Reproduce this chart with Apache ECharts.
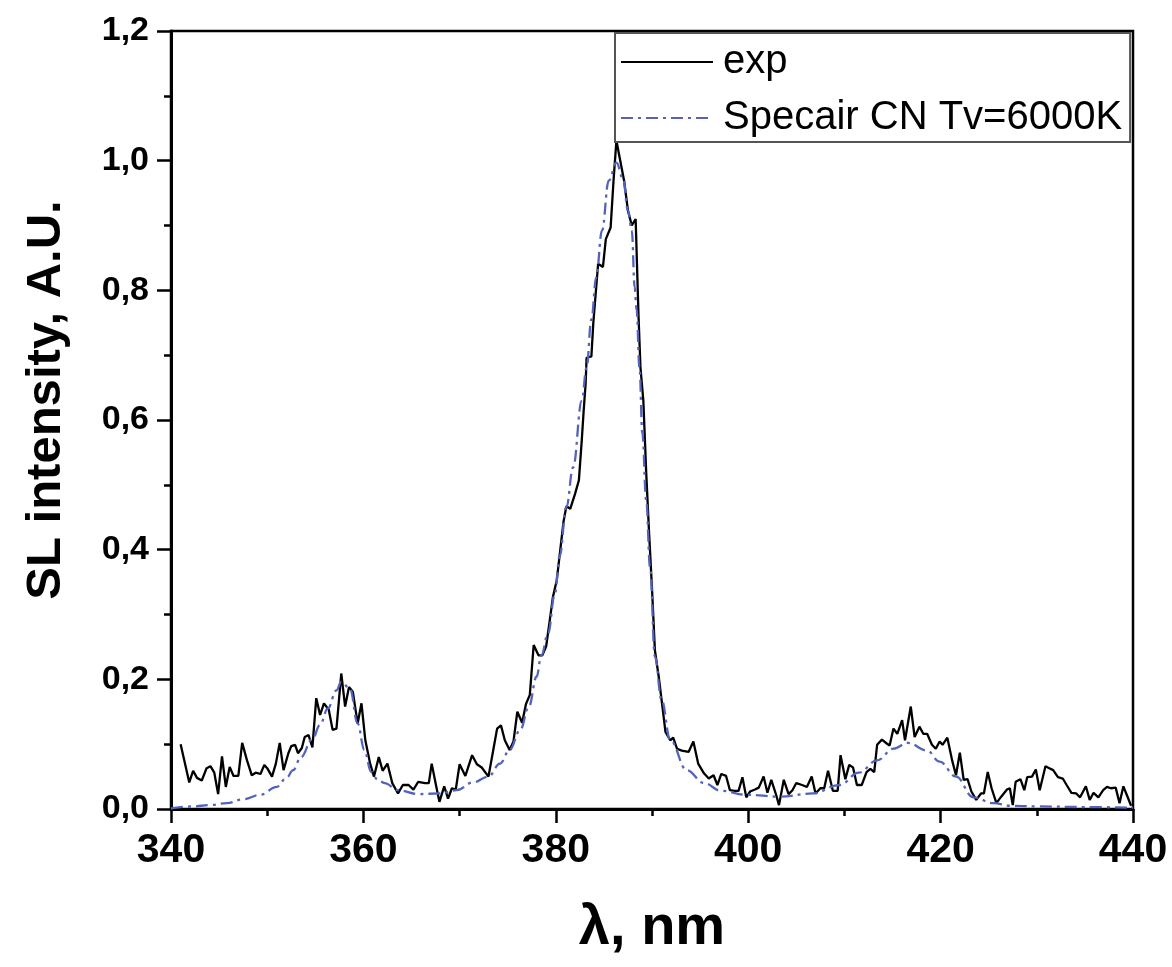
<!DOCTYPE html>
<html>
<head>
<meta charset="utf-8">
<script src="https://cdn.jsdelivr.net/npm/echarts@6/dist/echarts.min.js"></script>
<style>
html,body{margin:0;padding:0;background:#fff;}
#chart{width:1172px;height:967px;}
</style>
</head>
<body>
<div id="chart"></div>
<script>
// Experimental spectrum (wavelength nm, intensity A.U.)
const expX = [341.0,341.9,342.3,342.7,343.2,343.7,344.1,344.5,344.9,345.3,345.7,346.1,346.5,347.0,347.4,347.9,348.4,348.8,349.3,349.7,350.0,350.5,350.9,351.3,351.7,352.2,352.5,352.9,353.2,353.6,353.9,354.3,354.7,355.1,355.5,355.9,356.4,356.8,357.2,357.7,358.1,358.5,358.9,359.4,359.8,360.2,360.7,361.1,361.6,362.0,362.5,363.0,363.6,364.1,364.7,365.2,365.7,366.4,366.8,367.1,367.5,367.9,368.4,368.8,369.2,369.6,370.0,370.6,371.3,371.8,372.3,373.0,373.5,373.9,374.3,374.7,375.2,375.6,376.0,376.5,376.9,377.3,377.7,378.2,378.6,379.0,379.4,379.7,380.1,380.8,381.1,381.5,382.0,382.4,382.7,382.9,383.1,383.2,383.7,383.9,384.4,384.9,385.2,385.7,386.0,386.3,386.7,387.1,387.5,387.9,388.3,388.4,388.6,388.8,389.1,389.4,389.7,390.0,390.3,390.7,391.0,391.4,391.9,392.2,392.6,393.1,393.8,394.3,394.8,395.4,395.9,396.4,396.8,397.2,397.7,398.1,398.6,399.0,399.4,399.8,400.2,400.7,401.1,401.6,402.0,402.4,402.9,403.2,403.7,404.2,404.6,405.0,405.6,406.1,406.6,407.0,407.5,407.9,408.3,408.8,409.3,409.6,410.1,410.5,410.9,411.3,411.8,412.3,412.7,413.1,413.4,413.9,414.4,414.7,415.1,415.5,416.0,416.3,416.9,417.3,417.8,418.2,418.6,419.1,419.5,419.9,420.2,420.7,421.2,421.6,422.0,422.4,422.8,423.2,423.7,424.2,424.5,424.9,425.3,425.8,426.3,426.9,427.2,427.5,427.8,428.3,428.7,429.0,429.5,429.9,430.3,430.9,431.3,431.7,432.2,432.7,433.1,433.6,434.1,434.5,435.1,435.5,435.9,436.4,436.9,437.3,437.7,438.2,438.6,439.0,439.4,439.8];
const expY = [0.100,0.041,0.059,0.048,0.044,0.063,0.066,0.056,0.023,0.081,0.034,0.065,0.051,0.051,0.102,0.075,0.052,0.056,0.054,0.068,0.063,0.050,0.070,0.102,0.060,0.086,0.097,0.099,0.086,0.094,0.111,0.114,0.095,0.171,0.145,0.163,0.153,0.122,0.124,0.209,0.158,0.188,0.181,0.132,0.163,0.106,0.070,0.050,0.080,0.059,0.070,0.040,0.024,0.037,0.037,0.030,0.042,0.040,0.040,0.070,0.040,0.011,0.035,0.016,0.032,0.030,0.069,0.051,0.083,0.069,0.064,0.050,0.091,0.124,0.129,0.106,0.091,0.104,0.150,0.133,0.162,0.176,0.253,0.237,0.237,0.251,0.294,0.327,0.353,0.443,0.467,0.463,0.486,0.507,0.569,0.615,0.656,0.696,0.698,0.750,0.841,0.836,0.879,0.897,0.969,1.031,1.000,0.969,0.923,0.900,0.910,0.910,0.760,0.681,0.630,0.518,0.425,0.340,0.245,0.204,0.168,0.119,0.106,0.110,0.093,0.090,0.088,0.104,0.070,0.055,0.047,0.052,0.037,0.054,0.051,0.029,0.028,0.028,0.049,0.018,0.027,0.030,0.033,0.050,0.025,0.045,0.022,0.006,0.045,0.023,0.029,0.040,0.037,0.034,0.050,0.024,0.032,0.032,0.059,0.028,0.028,0.083,0.046,0.068,0.064,0.037,0.037,0.057,0.062,0.057,0.099,0.107,0.101,0.098,0.124,0.116,0.137,0.106,0.158,0.111,0.127,0.116,0.116,0.099,0.093,0.104,0.099,0.110,0.075,0.052,0.087,0.045,0.046,0.027,0.014,0.024,0.024,0.057,0.032,0.009,0.019,0.030,0.032,0.006,0.042,0.046,0.029,0.049,0.050,0.061,0.029,0.066,0.063,0.060,0.049,0.047,0.037,0.025,0.024,0.018,0.035,0.014,0.025,0.018,0.029,0.034,0.032,0.033,0.009,0.035,0.020,0.005];

// Specair simulated CN spectrum, Tv = 6000 K
const specX = [340.0,342.3,344.0,345.8,347.5,349.3,351.0,352.0,352.7,353.5,354.7,355.5,356.3,357.2,357.7,358.6,359.4,360.1,360.8,361.5,362.2,363.6,365.7,368.0,369.7,371.4,373.0,374.2,375.2,376.3,377.2,378.0,378.5,379.2,379.9,380.4,381.1,381.8,382.7,383.2,383.7,384.2,384.8,385.5,386.3,387.0,387.5,387.9,388.2,388.4,388.7,389.0,389.4,389.8,390.3,391.0,391.9,393.6,395.4,397.2,399.8,403.3,406.7,409.5,411.5,413.4,415.1,416.6,418.6,419.9,421.6,423.4,425.5,427.2,430.0,435.0,440.0];
const specY = [0.001,0.004,0.006,0.009,0.015,0.022,0.034,0.048,0.060,0.080,0.108,0.130,0.155,0.183,0.196,0.186,0.132,0.091,0.057,0.045,0.040,0.029,0.023,0.024,0.029,0.041,0.050,0.070,0.091,0.122,0.158,0.204,0.237,0.271,0.332,0.390,0.466,0.527,0.630,0.681,0.755,0.820,0.892,0.969,0.997,0.972,0.923,0.892,0.805,0.770,0.681,0.579,0.476,0.373,0.235,0.168,0.106,0.060,0.040,0.028,0.022,0.019,0.024,0.037,0.056,0.075,0.093,0.102,0.090,0.073,0.050,0.018,0.009,0.005,0.004,0.003,0.002];

const seriesNames = ['exp', 'Specair CN Tv=6000K'];
const xTicks = [340, 360, 380, 400, 420, 440];
const yTicks = [0, 0.2, 0.4, 0.6, 0.8, 1.0, 1.2];

const zip = (xs, ys) => xs.map((x, i) => [x, ys[i]]);
const FONT = '"Liberation Sans", Arial, sans-serif';

const chart = echarts.init(document.getElementById('chart'), null, {renderer: 'canvas'});
chart.setOption({
  backgroundColor: '#ffffff',
  animation: false,
  grid: {
    left: 171, right: 39, top: 31, bottom: 158,
    show: true, borderColor: '#000', borderWidth: 2.5, backgroundColor: 'transparent'
  },
  legend: {
    show: true,
    orient: 'vertical',
    left: 615, top: 33,
    padding: [7, 8, 2, 5],
    itemGap: 12,
    itemWidth: 92,
    itemHeight: 14,
    itemStyle: {opacity: 0},
    borderColor: '#555',
    borderWidth: 2,
    backgroundColor: '#fff',
    data: seriesNames,
    textStyle: {fontFamily: FONT, fontSize: 40, color: '#000', lineHeight: 44, padding: [0, 0, 0, 5]}
  },
  xAxis: {
    type: 'value',
    min: xTicks[0], max: xTicks[xTicks.length - 1], interval: 20,
    name: 'λ, nm',
    nameLocation: 'middle',
    nameGap: 92,
    nameTextStyle: {fontFamily: FONT, fontSize: 56, fontWeight: 'bold', color: '#000'},
    axisLine: {show: true, onZero: false, lineStyle: {color: '#000', width: 3}},
    axisTick: {show: true, inside: false, length: 14, lineStyle: {color: '#000', width: 2.5}},
    minorTick: {show: true, splitNumber: 2, length: 7, lineStyle: {color: '#000', width: 2.5}},
    axisLabel: {fontFamily: FONT, fontSize: 41, fontWeight: 'bold', color: '#000', margin: 21},
    splitLine: {show: false}
  },
  yAxis: {
    type: 'value',
    min: yTicks[0], max: yTicks[yTicks.length - 1], interval: 0.2,
    name: 'SL intensity, A.U.',
    nameLocation: 'middle',
    nameGap: 100,
    nameTextStyle: {fontFamily: FONT, fontSize: 49, fontWeight: 'bold', color: '#000', padding: [0, 0, 0, 40]},
    axisLine: {show: true, onZero: false, lineStyle: {color: '#000', width: 3}},
    axisTick: {show: true, inside: false, length: 14, lineStyle: {color: '#000', width: 2.5}},
    minorTick: {show: true, splitNumber: 2, length: 7, lineStyle: {color: '#000', width: 2.5}},
    axisLabel: {
      fontFamily: FONT, fontSize: 34, fontWeight: 'bold', color: '#000', margin: 22,
      formatter: v => v.toFixed(1).replace('.', ',')
    },
    splitLine: {show: false}
  },
  series: [
    {
      name: seriesNames[0],
      type: 'line',
      data: zip(expX, expY),
      symbol: 'none',
      lineStyle: {color: '#000', width: 2.3},
      itemStyle: {color: '#000'},
      z: 2
    },
    {
      name: seriesNames[1],
      type: 'line',
      data: zip(specX, specY),
      symbol: 'none',
      smooth: 0.4,
      smoothMonotone: 'x',
      lineStyle: {color: '#5363bd', width: 2.3, type: [12, 5, 3, 5]},
      itemStyle: {color: '#5363bd'},
      z: 3
    }
  ]
});
</script>
</body>
</html>
